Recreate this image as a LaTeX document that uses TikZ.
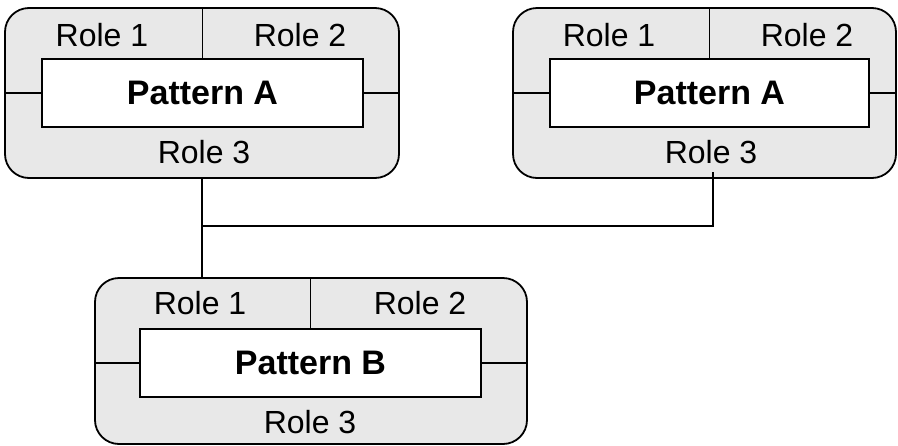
\documentclass[tikz,border=0pt]{standalone}
\usepackage{fontspec}
\setmainfont{Liberation Sans}
\usetikzlibrary{positioning}
\definecolor{boxgray}{RGB}{232,232,232}
\newcommand{\labelsize}{\fontsize{32}{38}\selectfont}
\tikzset{
  outerbox/.style={draw, line width=1.8pt, rounded corners=24pt, fill=boxgray,
                   minimum height=170pt, inner sep=0pt},
  innerbox/.style={draw, line width=1.8pt, fill=white, minimum height=68pt,
                   inner sep=0pt, font=\fontsize{34}{40}\selectfont\bfseries},
  role/.style={inner sep=0pt},
  wire/.style={line width=1.8pt},
}

\begin{document}
\begin{tikzpicture}[x=1pt,y=-1pt,font=\labelsize]
    \useasboundingbox (0,0) rectangle (898,445);
    % left pattern A
    \node[outerbox, minimum width=394pt] (boxA) at (202,93) {};
    \node[innerbox, minimum width=321pt] (patA) at (202.5,93) {Pattern A};
    \node[role] (roleA1) at (102,35) {Role 1};
    \node[role] (roleA2) at (300,35) {Role 2};
    \node[role] (roleA3) at (204,152) {Role 3};
    \draw[wire] (patA.north) -- (patA.north |- boxA.north);
    \draw[wire] (boxA.west |- patA.west) -- (patA.west);
    \draw[wire] (patA.east) -- (boxA.east |- patA.east);
    % right pattern A
    \node[outerbox, minimum width=383pt] (boxC) at (704.5,93) {};
    \node[innerbox, minimum width=319pt] (patC) at (709.5,93) {Pattern A};
    \node[role] (roleC1) at (609,35) {Role 1};
    \node[role] (roleC2) at (807,35) {Role 2};
    \node[role] (roleC3) at (711,152) {Role 3};
    \draw[wire] (patC.north) -- (patC.north |- boxC.north);
    \draw[wire] (boxC.west |- patC.west) -- (patC.west);
    \draw[wire] (patC.east) -- (boxC.east |- patC.east);
    % pattern B
    \node[outerbox, minimum width=432pt, minimum height=166pt] (boxB) at (311,361) {};
    \node[innerbox, minimum width=341pt] (patB) at (310.5,363) {Pattern B};
    \node[role] (roleB1) at (200,303) {Role 1};
    \node[role] (roleB2) at (420,303) {Role 2};
    \node[role] (roleB3) at (310,422) {Role 3};
    \draw[wire] (patB.north) -- (patB.north |- boxB.north);
    \draw[wire] (boxB.west |- patB.west) -- (patB.west);
    \draw[wire] (patB.east) -- (boxB.east |- patB.east);
    % connectors
    \coordinate (joint) at (202,226);
    \coordinate (endC) at (713,172);
    \draw[wire] (boxA.south) -- (boxA.south |- boxB.north);
    \draw[wire] (endC) |- (joint);
\end{tikzpicture}
\end{document}
